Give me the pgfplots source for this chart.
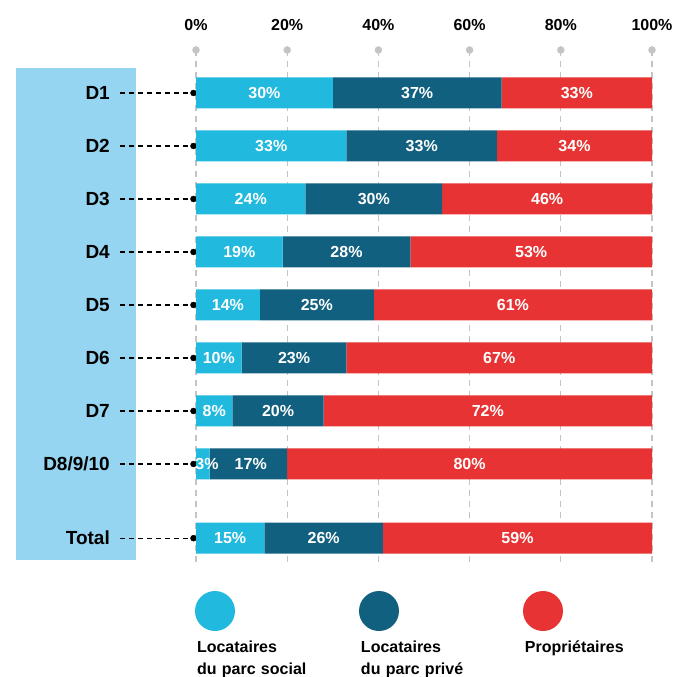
\documentclass[border=0pt]{standalone}
\usepackage{pgfplots}
\usepackage{pgfplotstable}
\pgfplotsset{compat=1.18}
\usepackage{fontspec}
\setmainfont{Liberation Sans}
\definecolor{cSoc}{RGB}{33,185,221}
\definecolor{cPriv}{RGB}{18,96,127}
\definecolor{cProp}{RGB}{231,51,51}
\definecolor{cPanel}{RGB}{149,213,241}
\definecolor{cGrid}{RGB}{196,196,196}
\pgfplotstableread{
pos soc priv prop
0   30  37  33
1   33  33  34
2   24  30  46
3   19  28  53
4   14  25  61
5   10  23  67
6   8   20  72
7   3   17  80
8.4 15  26  59
}\data
\begin{document}
\begin{tikzpicture}
\pgfplotsset{
  common/.style={
    scale only axis, width=456pt, height=515pt,
    at={(196pt,-50pt)}, anchor=north west,
    xmin=0, xmax=100, ymin=-0.811, ymax=8.906, y dir=reverse,
  },
}
\begin{axis}[common, set layers, clip=false,
  axis line style={draw=none},
  xticklabel pos=upper,
  xtick={0,20,40,60,80,100},
  xticklabels={0\%,20\%,40\%,60\%,80\%,100\%},
  major tick length=0pt,
  xmajorgrids,
  grid style={cGrid, line width=1.3pt, dash pattern=on 6pt off 5pt},
  xticklabel style={anchor=base, yshift=19pt, inner sep=0pt, font=\fontsize{16}{19}\selectfont\bfseries},
  ytick={0,1,2,3,4,5,6,7,8.4},
  yticklabels={D1,D2,D3,D4,D5,D6,D7,D8/9/10,Total},
  yticklabel style={anchor=east, inner sep=0pt, xshift=-86pt, font=\fontsize{19}{22}\selectfont\bfseries},
]
\begin{pgfonlayer}{axis background}
\fill[cPanel] (axis cs:-39.47,-0.472) rectangle (axis cs:-13.16,8.811);
\end{pgfonlayer}
\addplot[only marks, mark=*, mark size=3.5pt, color=cGrid] coordinates {(0,-0.811) (20,-0.811) (40,-0.811) (60,-0.811) (80,-0.811) (100,-0.811)};
\pgfplotsinvokeforeach{0,1,2,3,4,5,6,7,8.4}{
  \addplot[black, line width=1.1pt, dash pattern=on 5pt off 4pt] coordinates {(-16.67,#1) (-0.6,#1)};
}
\addplot[only marks, mark=*, mark size=3pt, color=black] coordinates {(-0.55,0) (-0.55,1) (-0.55,2) (-0.55,3) (-0.55,4) (-0.55,5) (-0.55,6) (-0.55,7) (-0.55,8.4)};
\end{axis}
\begin{axis}[common, hide axis, clip=false, xbar stacked, bar width=31pt,
  legend columns=3,
  legend style={draw=none, fill=none, inner sep=0pt, outer sep=0pt,
    at={(-0.0022,-0.1371)}, anchor=north west,
    font=\fontsize{16}{21.5}\selectfont\bfseries,
    cells={anchor=north west, align=left, text width=125pt, inner sep=0pt},
    /tikz/every even column/.append style={column sep=35pt},
    /tikz/every odd column/.append style={column sep=0pt},
    row sep=0pt},
]
\addplot[fill=cSoc, draw=none,
  legend image code/.code={\fill[cSoc, overlay] (20pt,24.6pt) circle (20pt);}
] table[x=soc, y=pos] {\data};
\addlegendentry{\strut Locataires\\du parc social}
\addplot[fill=cPriv, draw=none,
  legend image code/.code={\fill[cPriv, overlay] (20pt,24.6pt) circle (20pt);}
] table[x=priv, y=pos] {\data};
\addlegendentry{\strut Locataires\\du parc privé}
\addplot[fill=cProp, draw=none,
  legend image code/.code={\fill[cProp, overlay] (20pt,24.6pt) circle (20pt);}
] table[x=prop, y=pos] {\data};
\addlegendentry{\strut Propriétaires}
\end{axis}
\begin{axis}[common, hide axis, clip=false]
\addplot[draw=none, mark=none, nodes near coords, point meta=explicit symbolic,
  every node near coord/.append style={anchor=center, text=white, inner sep=0pt, font=\fontsize{16}{19}\selectfont\bfseries}]
coordinates {
(15,0) [30\%] (48.5,0) [37\%] (83.5,0) [33\%]
(16.5,1) [33\%] (49.5,1) [33\%] (83,1) [34\%]
(12,2) [24\%] (39,2) [30\%] (77,2) [46\%]
(9.5,3) [19\%] (33,3) [28\%] (73.5,3) [53\%]
(7,4) [14\%] (26.5,4) [25\%] (69.5,4) [61\%]
(5,5) [10\%] (21.5,5) [23\%] (66.5,5) [67\%]
(4,6) [8\%] (18,6) [20\%] (64,6) [72\%]
(2.4,7) [3\%] (12,7) [17\%] (60,7) [80\%]
(7.5,8.4) [15\%] (28,8.4) [26\%] (70.5,8.4) [59\%]
};
\end{axis}
\path (0pt,0pt) rectangle (678pt,-677pt);
\end{tikzpicture}
\end{document}
